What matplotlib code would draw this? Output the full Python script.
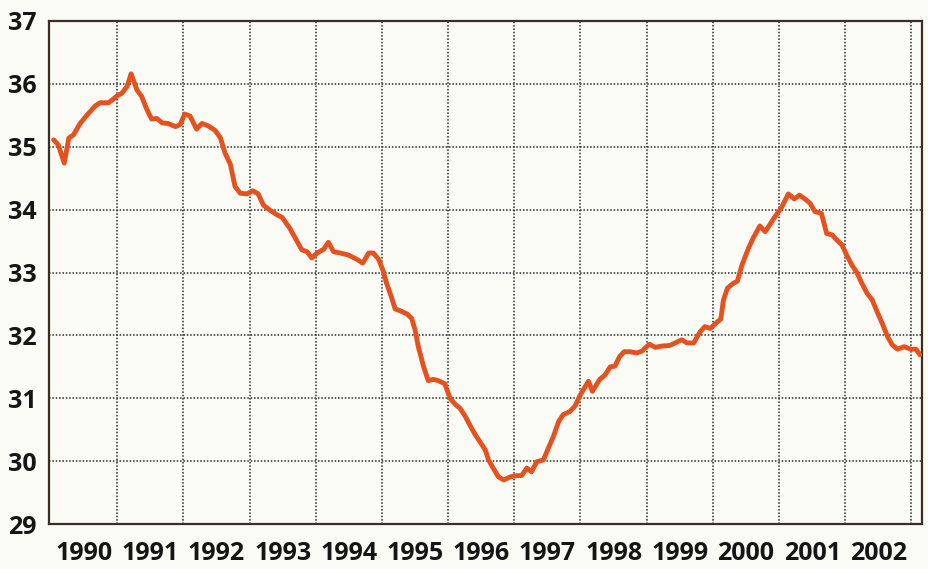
import matplotlib
matplotlib.use("Agg")
import matplotlib.pyplot as plt
import numpy as np

# Data (decimal year, value)
years = [1990.04, 1990.11, 1990.20, 1990.27, 1990.34, 1990.44, 1990.54, 1990.67, 1990.74, 1990.87,
         1990.92, 1991.00, 1991.07, 1991.15, 1991.21, 1991.30, 1991.37, 1991.45, 1991.52, 1991.60,
         1991.68, 1991.77, 1991.88, 1991.95, 1992.02, 1992.10, 1992.20, 1992.28, 1992.38, 1992.48,
         1992.56, 1992.63, 1992.71, 1992.78, 1992.86, 1992.96, 1993.05, 1993.13, 1993.21, 1993.31,
         1993.41, 1993.49, 1993.61, 1993.69, 1993.79, 1993.87, 1993.94, 1994.02, 1994.12, 1994.19,
         1994.27, 1994.37, 1994.49, 1994.62, 1994.71, 1994.80, 1994.87, 1994.95, 1995.02, 1995.07,
         1995.14, 1995.20, 1995.28, 1995.38, 1995.45, 1995.50, 1995.55, 1995.63, 1995.70, 1995.78,
         1995.85, 1995.95, 1996.03, 1996.11, 1996.18, 1996.26, 1996.33, 1996.41, 1996.48, 1996.56,
         1996.61, 1996.68, 1996.76, 1996.84, 1996.94, 1997.04, 1997.11, 1997.19, 1997.26, 1997.34,
         1997.44, 1997.52, 1997.59, 1997.67, 1997.74, 1997.84, 1997.92, 1997.99, 1998.12, 1998.18,
         1998.29, 1998.37, 1998.45, 1998.52, 1998.59, 1998.66, 1998.75, 1998.85, 1998.93, 1999.04,
         1999.13, 1999.23, 1999.35, 1999.43, 1999.53, 1999.61, 1999.71, 1999.81, 1999.88, 1999.96,
         2000.03, 2000.12, 2000.16, 2000.22, 2000.31, 2000.37, 2000.44, 2000.54, 2000.61, 2000.71,
         2000.79, 2000.86, 2000.94, 2001.04, 2001.14, 2001.23, 2001.31, 2001.39, 2001.47, 2001.54,
         2001.64, 2001.72, 2001.80, 2001.87, 2001.95, 2002.02, 2002.10, 2002.18, 2002.25, 2002.33,
         2002.41, 2002.48, 2002.56, 2002.64, 2002.71, 2002.79, 2002.89, 2002.99, 2003.07, 2003.13]
values = [35.11, 35.03, 34.74, 35.14, 35.19, 35.37, 35.50, 35.65, 35.70, 35.70,
          35.74, 35.81, 35.85, 35.96, 36.16, 35.90, 35.80, 35.59, 35.44, 35.45,
          35.38, 35.37, 35.32, 35.35, 35.52, 35.49, 35.28, 35.37, 35.33, 35.26,
          35.14, 34.90, 34.72, 34.37, 34.26, 34.25, 34.30, 34.25, 34.07, 33.99,
          33.92, 33.88, 33.70, 33.55, 33.36, 33.33, 33.23, 33.31, 33.37, 33.48,
          33.33, 33.31, 33.28, 33.21, 33.15, 33.31, 33.31, 33.21, 33.02, 32.83,
          32.62, 32.42, 32.39, 32.34, 32.27, 32.09, 31.82, 31.50, 31.28, 31.30,
          31.28, 31.23, 31.00, 30.90, 30.84, 30.71, 30.57, 30.42, 30.31, 30.18,
          30.02, 29.89, 29.75, 29.70, 29.75, 29.77, 29.77, 29.89, 29.83, 29.99,
          30.02, 30.22, 30.39, 30.63, 30.74, 30.79, 30.88, 31.04, 31.27, 31.11,
          31.30, 31.37, 31.50, 31.51, 31.66, 31.74, 31.74, 31.72, 31.75, 31.86,
          31.81, 31.83, 31.84, 31.88, 31.93, 31.88, 31.88, 32.06, 32.14, 32.11,
          32.18, 32.26, 32.56, 32.75, 32.83, 32.86, 33.12, 33.39, 33.55, 33.74,
          33.65, 33.76, 33.89, 34.04, 34.25, 34.17, 34.23, 34.17, 34.10, 33.97,
          33.94, 33.62, 33.60, 33.52, 33.44, 33.28, 33.12, 32.99, 32.83, 32.67,
          32.56, 32.38, 32.19, 31.98, 31.85, 31.78, 31.82, 31.78, 31.78, 31.69]

year_labels = [str(y) for y in range(1990, 2003)]
y_ticks = list(range(29, 38))

bg = "#fbfbf5"
fig = plt.figure(figsize=(9.29, 5.69), dpi=100, facecolor=bg)
ax = fig.add_axes([49 / 929, 1 - 524 / 569, (922 - 49) / 929, (524 - 21) / 569])
ax.set_facecolor(bg)

ax.plot(years, values, color="#e4521f", lw=3.5, solid_joinstyle="round",
        solid_capstyle="round", zorder=3)

ax.set_xlim(1989.97, 2003.16)
ax.set_ylim(29, 37)

# gridlines at year boundaries, labels centred in each year
ax.set_xticks(range(1991, 2004))
ax.set_xticklabels([])
ax.set_xticks([int(l) + 0.5 for l in year_labels], minor=True)
ax.set_xticklabels(year_labels, minor=True)
ax.set_yticks(y_ticks)
ax.set_yticklabels([str(v) for v in y_ticks])

ax.tick_params(axis="x", which="both", length=0)
ax.tick_params(axis="x", which="minor", pad=12)
ax.tick_params(axis="y", length=0, pad=9)

for lab in ax.get_xticklabels(minor=True) + ax.get_yticklabels():
    lab.set_fontfamily("Open Sans")
    lab.set_fontweight("bold")
    lab.set_fontsize(18)
    lab.set_color("#151515")

ax.grid(True, which="major", color="#2a2a2a", linestyle=(0, (1, 1.2)), linewidth=1.1)
ax.set_axisbelow(True)
for s in ax.spines.values():
    s.set_color("#3a2e25")
    s.set_linewidth(1.6)

fig.savefig("out.png", dpi=100, facecolor=bg)
